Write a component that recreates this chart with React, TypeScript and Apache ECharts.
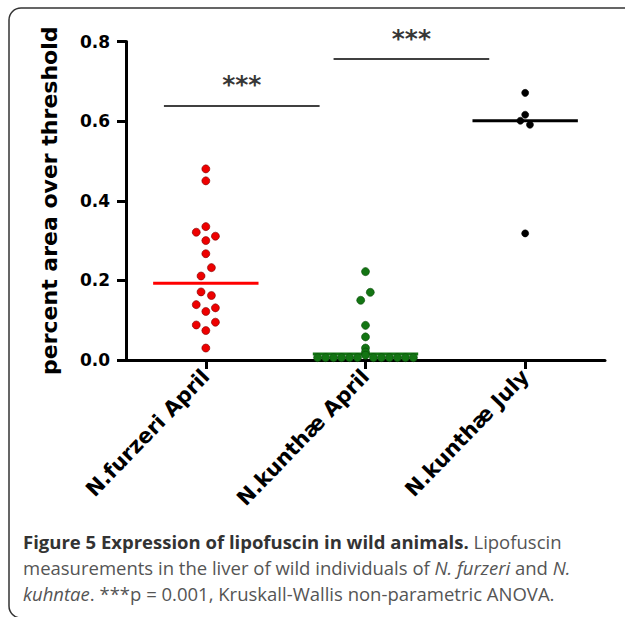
import React, { useEffect, useRef } from "react";
import * as echarts from "echarts";

const categories = ["N.furzeri April", "N.kunthæ April", "N.kunthæ July"];
const yTicks = [0, 0.2, 0.4, 0.6, 0.8];

const furzeriApril = [0.48, 0.45, 0.335, 0.321, 0.311, 0.3, 0.267, 0.232, 0.211, 0.171, 0.162, 0.139, 0.131, 0.122, 0.095, 0.088, 0.074, 0.03];
const furzeriAprilJitter = [0, 0, 0, -0.06, 0.06, 0, 0, 0.035, -0.03, -0.03, 0.035, -0.06, 0.06, 0, 0.06, -0.06, 0, 0];

const kunthaeApril = [0.222, 0.17, 0.15, 0.087, 0.058, 0.03, 0.02, 0.012, 0.006, 0.006, 0.006, 0.006, 0.006, 0.006, 0.006, 0.006, 0.006, 0.006, 0.006, 0.006];
const kunthaeAprilJitter = [0, 0.03, -0.03, 0, 0, 0, 0, 0, -0.3, -0.25, -0.2, -0.15, -0.1, -0.05, 0.05, 0.1, 0.15, 0.2, 0.25, 0.3];

const kunthaeJuly = [0.671, 0.616, 0.601, 0.591, 0.318];
const kunthaeJulyJitter = [0, 0, -0.03, 0.03, 0];

const medians = [0.193, 0.015, 0.601];

// significance bars: [xStart, xEnd, y] in category units
const sigBars = [
  [0.2375, 1.2125, 0.638],
  [1.3, 2.275, 0.756],
];
const sigLabel = "***";

const groupColors = ["#ee0000", "#137513", "#000000"];

export default function App() {
  const ref = useRef<HTMLDivElement>(null);
  useEffect(() => {
    document.body.style.margin = "0";
    const chart = echarts.init(ref.current!, null, { renderer: "svg" });
    const groups = [
      [furzeriApril, furzeriAprilJitter],
      [kunthaeApril, kunthaeAprilJitter],
      [kunthaeJuly, kunthaeJulyJitter],
    ];
    const half = 0.33;
    const series: any[] = [];
    groups.forEach(([vals, jit], gi) => {
      series.push({
        type: "line",
        xAxisIndex: 1,
        data: [
          [gi + 0.5 - half, medians[gi]],
          [gi + 0.5 + half, medians[gi]],
        ],
        symbol: "none",
        lineStyle: { color: gi === 0 ? "#ff0000" : groupColors[gi], width: 3 },
        z: 3,
      });
      series.push({
        type: "scatter",
        xAxisIndex: 1,
        data: (vals as number[]).map((v, i) => [gi + 0.5 + (jit as number[])[i], v]),
        symbolSize: gi === 2 ? 7 : 8,
        itemStyle: {
          color: groupColors[gi],
          opacity: 1,
          borderColor: gi === 0 ? "#7a0000" : gi === 1 ? "#0a4a0a" : "#000",
          borderWidth: 0.6,
        },
        z: 4,
      });
    });
    sigBars.forEach((b) => {
      series.push({
        type: "line",
        xAxisIndex: 1,
        data: [
          [b[0], b[2]],
          [b[1], b[2]],
        ],
        symbol: "none",
        lineStyle: { color: "#000", width: 1.5 },
      });
      series.push({
        type: "scatter",
        xAxisIndex: 1,
        data: [[(b[0] + b[1]) / 2, b[2]]],
        symbolSize: 0,
        label: {
          show: true,
          position: "inside",
          offset: [0, -21],
          formatter: sigLabel,
          fontFamily: "DejaVu Sans",
          fontWeight: "bold",
          fontSize: 25,
          color: "#000",
        },
      });
    });

    const capN = { fontFamily: "Open Sans", fontSize: 18.5, fill: "#555" };
    const capI = { fontFamily: "Open Sans", fontStyle: "italic", fontSize: 18.5, fill: "#555" };
    const capB = { fontFamily: "Open Sans", fontWeight: "bold", fontSize: 18.5, fill: "#333" };

    chart.setOption({
      animation: false,
      grid: { left: 126, right: 20, top: 41.5, bottom: 257, containLabel: false },
      xAxis: [
        {
          type: "category",
          data: categories,
          boundaryGap: true,
          axisLine: { show: true, lineStyle: { color: "#000", width: 3 } },
          axisTick: { show: true, alignWithLabel: true, length: 9, lineStyle: { color: "#000", width: 3 } },
          axisLabel: {
            rotate: 46,
            margin: 13,
            fontFamily: "DejaVu Sans",
            fontWeight: "bold",
            fontSize: 21,
            color: "#000",
          },
          splitLine: { show: false },
        },
        { type: "value", min: 0, max: 3, show: false },
      ],
      yAxis: {
        type: "value",
        min: 0,
        max: 0.8,
        interval: 0.2,
        name: "percent area over threshold",
        nameLocation: "middle",
        nameGap: 66,
        nameTextStyle: { fontFamily: "DejaVu Sans", fontWeight: "bold", fontSize: 22, color: "#000" },
        axisLine: { show: true, lineStyle: { color: "#000", width: 3 } },
        axisTick: { show: true, length: 9, lineStyle: { color: "#000", width: 3 } },
        axisLabel: {
          margin: 16,
          formatter: (v: number) => v.toFixed(1),
          fontFamily: "DejaVu Sans",
          fontWeight: "bold",
          fontSize: 17,
          color: "#000",
        },
        splitLine: { show: false },
      },
      graphic: [
        {
          type: "rect",
          shape: { x: 9, y: 8, width: 700, height: 610, r: 12 },
          style: { fill: "none", stroke: "#333", lineWidth: 1.5 },
          z: -1,
        },
        {
          type: "text",
          left: 23,
          top: 532,
          style: {
            text: "{b|Figure 5 Expression of lipofuscin in wild animals.}{n| Lipofuscin}",
            rich: { b: capB, n: capN },
          },
        },
        {
          type: "text",
          left: 23,
          top: 558,
          style: {
            text: "{n|measurements in the liver of wild individuals of }{i|N. furzeri}{n| and }{i|N.}",
            rich: { n: capN, i: capI },
          },
        },
        {
          type: "text",
          left: 23,
          top: 584,
          style: {
            text: "{i|kuhntae}{n|. ***p = 0.001, Kruskall-Wallis non-parametric ANOVA.}",
            rich: { n: capN, i: capI },
          },
        },
      ],
      series,
    });
    return () => chart.dispose();
  }, []);
  return <div ref={ref} style={{ width: 625, height: 617 }} />;
}
